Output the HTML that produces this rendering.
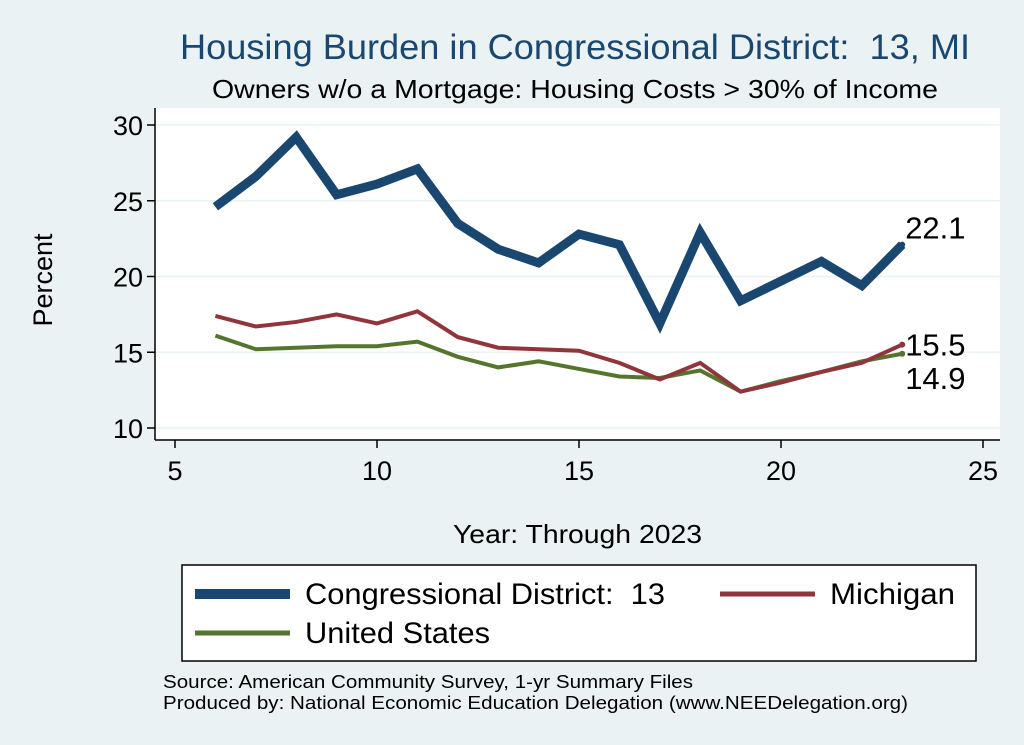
<!DOCTYPE html>
<html><head><meta charset="utf-8"><style>
body{margin:0;background:#eaf2f3;}
svg{display:block;font-family:"Liberation Sans",sans-serif;}
text{white-space:pre;}
</style></head><body>
<svg id="chart" width="1024" height="745" viewBox="0 0 1024 745">
<rect x="0" y="0" width="1024" height="745" fill="#eaf2f3"/>
<text x="180" y="59" font-size="35" fill="#1a476f" textLength="790" lengthAdjust="spacingAndGlyphs">Housing Burden in Congressional District:&#160;&#160;13, MI</text>
<text x="212" y="98" font-size="26" fill="#000" textLength="726" lengthAdjust="spacingAndGlyphs">Owners w/o a Mortgage: Housing Costs &gt; 30% of Income</text>
<rect x="155" y="108" width="845" height="332" fill="#fff"/>
<g id="grid"></g><g id="axes"></g><g id="series"></g>
<text x="52" y="280" font-size="27" text-anchor="middle" transform="rotate(-90 52 280)">Percent</text>
<text x="453" y="543" font-size="26" textLength="249" lengthAdjust="spacingAndGlyphs">Year: Through 2023</text>
<g>
<rect x="182" y="565" width="794" height="96" fill="#fff" stroke="#000" stroke-width="1.5"/>
<line x1="195" y1="594" x2="290" y2="594" stroke="#1a476f" stroke-width="10"/>
<text x="305" y="604" font-size="30" textLength="360" lengthAdjust="spacingAndGlyphs">Congressional District:&#160;&#160;13</text>
<line x1="720" y1="594" x2="815" y2="594" stroke="#90353b" stroke-width="5"/>
<text x="830" y="604" font-size="30" textLength="125" lengthAdjust="spacingAndGlyphs">Michigan</text>
<line x1="195" y1="633" x2="290" y2="633" stroke="#55752f" stroke-width="5"/>
<text x="305" y="643" font-size="30" textLength="185" lengthAdjust="spacingAndGlyphs">United States</text>
</g>
<text x="163" y="688" font-size="18" textLength="530" lengthAdjust="spacingAndGlyphs">Source: American Community Survey, 1-yr Summary Files</text>
<text x="163" y="709" font-size="18" textLength="745" lengthAdjust="spacingAndGlyphs">Produced by: National Economic Education Delegation (www.NEEDelegation.org)</text>
</svg>
<script>
const years=[6,7,8,9,10,11,12,13,14,15,16,17,18,19,20,21,22,23];
const district=[24.6,26.6,29.2,25.4,26.1,27.1,23.5,21.8,20.9,22.8,22.1,16.9,22.9,18.4,19.7,21.0,19.4,22.1];
const michigan=[17.4,16.7,17.0,17.5,16.9,17.7,16.0,15.3,15.2,15.1,14.3,13.2,14.3,12.4,13.0,13.7,14.3,15.5];
const us=[16.1,15.2,15.3,15.4,15.4,15.7,14.7,14.0,14.4,13.9,13.4,13.3,13.8,12.4,13.1,13.7,14.4,14.9];
const xTicks=[5,10,15,20,25];
const yTicks=[10,15,20,25,30];
const X=v=>175+(v-5)*40.4;
const Y=v=>428-(v-10)*15.15;
const NS="http://www.w3.org/2000/svg";
function mk(tag,attrs,parent,txt){const e=document.createElementNS(NS,tag);for(const k in attrs)e.setAttribute(k,attrs[k]);if(txt!==undefined)e.textContent=txt;document.getElementById(parent).appendChild(e);return e;}
mk('line',{x1:155,y1:440,x2:1000,y2:440,stroke:'#000','stroke-width':1.5},'axes');
mk('line',{x1:155,y1:108,x2:155,y2:440,stroke:'#000','stroke-width':1.5},'axes');
yTicks.forEach(t=>{
 const g=mk('line',{x1:155,y1:Y(t),x2:1000,y2:Y(t),stroke:'#eaf2f3','stroke-width':1.5},'grid');
 
 
 mk('line',{x1:147,y1:Y(t),x2:155,y2:Y(t),stroke:'#000','stroke-width':1.5},'axes');
 const l=mk('text',{x:143,y:Y(t)+10,'font-size':27,'text-anchor':'end'},'axes',String(t));
 
 
});
xTicks.forEach(t=>{
 mk('line',{x1:X(t),y1:440,x2:X(t),y2:448,stroke:'#000','stroke-width':1.5},'axes');
 const l=mk('text',{x:X(t),y:480,'font-size':27,'text-anchor':'middle'},'axes',String(t));
 
 
});
function line(vals,color,w,name,labelDy){
 const p=mk('polyline',{points:vals.map((v,i)=>X(years[i])+','+Y(v)).join(' '),fill:'none',stroke:color,'stroke-width':w,'stroke-linejoin':'miter'},'series');
 
 
 const last=vals[vals.length-1];
 mk('circle',{cx:X(years[years.length-1]),cy:Y(last),r:3,fill:color},'series');
 const t=mk('text',{x:X(years[years.length-1])+3,y:Y(last)+labelDy,'font-size':31},'series',last.toFixed(1));
 
 
}
line(district,'#1a476f',9,'district-line',-6);
line(us,'#55752f',4,'us-line',35);
line(michigan,'#90353b',4,'michigan-line',11);
</script>
</body></html>
